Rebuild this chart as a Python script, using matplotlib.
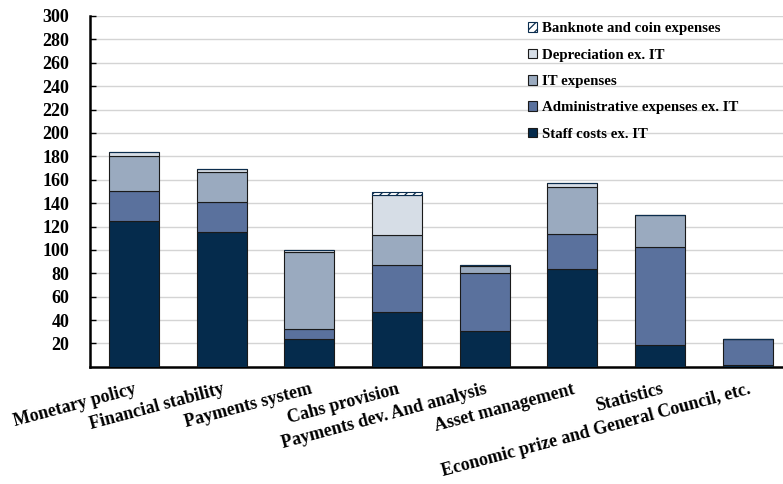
"""
Cost breakdown by task area - stacked bars
"""
import matplotlib
matplotlib.use('Agg')
import matplotlib.pyplot as plt
import numpy as np

categories = ['Monetary policy', 'Financial stability', 'Payments system',
              'Cahs provision', 'Payments dev. And analysis', 'Asset management',
              'Statistics', 'Economic prize and General Council, etc.']

staff = [125, 115, 24, 47, 31, 83.5, 18.5, 2]
admin = [25, 26, 8, 40, 49, 30, 84, 21.5]
it_exp = [30.5, 25.5, 66.5, 26, 6.5, 40, 27, 0]
depreciation = [3, 2.5, 1, 34, 0.5, 4, 0.5, 0]
banknote = [0, 0, 0, 2.5, 0, 0, 0, 0]

series_names = ['Staff costs ex. IT', 'Administrative expenses ex. IT',
                'IT expenses', 'Depreciation ex. IT', 'Banknote and coin expenses']
series_values = [staff, admin, it_exp, depreciation, banknote]
series_colors = ['#052b4c', '#5a719d', '#9aaabf', '#d6dde6', 'white']

plt.rcParams['font.family'] = ['Liberation Serif', 'DejaVu Serif']
plt.rcParams['font.weight'] = 'bold'
plt.rcParams['hatch.linewidth'] = 0.9

fig = plt.figure(figsize=(7.83, 4.84), dpi=100)
ax = fig.add_axes([0.115, 0.242, 0.885, 0.725])

x = np.arange(len(categories))
bottom = np.zeros(len(categories))
handles = []
for name, vals, color in zip(series_names, series_values, series_colors):
    vals = np.array(vals, dtype=float)
    if name.startswith('Banknote'):
        b = ax.bar(x, vals, 0.57, bottom=bottom, color=color, edgecolor='#0b2d4e',
                   hatch='////', linewidth=0.8, label=name, zorder=3)
    else:
        b = ax.bar(x, vals, 0.57, bottom=bottom, color=color, edgecolor='#1a1a1a',
                   linewidth=0.8, label=name, zorder=3)
    handles.append(b)
    bottom += vals

ax.set_xlim(-0.5, 7.4)
ax.set_ylim(0, 300)
ax.set_yticks(np.arange(20, 301, 20))
ax.tick_params(axis='y', direction='in', length=4, width=1, labelsize=13, pad=15)
ax.tick_params(axis='x', length=0, pad=10)
ax.set_xticks(x)
ax.set_xticklabels(categories, rotation=15, ha='right', rotation_mode='anchor',
                   fontsize=13)

ax.grid(axis='y', color='#d4d4d4', linewidth=1, zorder=0)
ax.set_axisbelow(True)
for side in ['top', 'right']:
    ax.spines[side].set_visible(False)
ax.spines['left'].set_linewidth(1.8)
ax.spines['bottom'].set_linewidth(1.8)

ax.legend(handles[::-1], series_names[::-1], loc='upper left',
          bbox_to_anchor=(0.613, 1.02), frameon=False, fontsize=10.7,
          handlelength=0.6, handleheight=0.6, handletextpad=0.3,
          labelspacing=0.9)

fig.savefig('out.png', dpi=100)
